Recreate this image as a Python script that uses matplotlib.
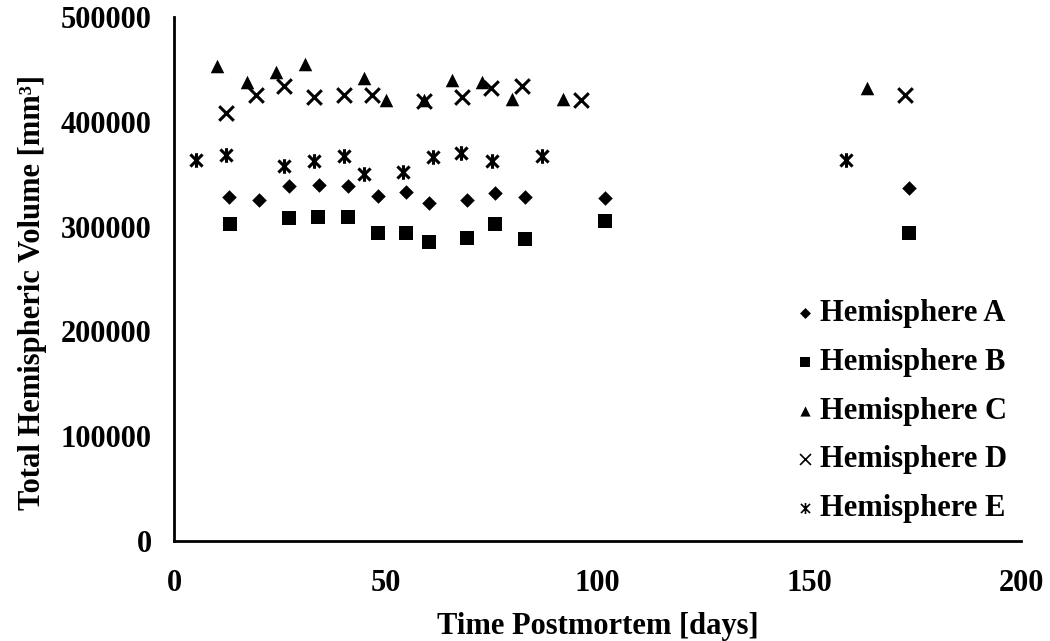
import matplotlib
matplotlib.use("Agg")
import matplotlib.pyplot as plt
from matplotlib.path import Path

plt.rcParams['font.family'] = ['Liberation Serif', 'DejaVu Serif']
plt.rcParams['font.weight'] = 'bold'

# Data (days, mm^3)
a_days = [13.1, 20.1, 27.2, 34.2, 41.2, 48.1, 54.9, 60.1, 69.1, 75.8, 82.9, 101.8, 173.6]
a_vol = [328000, 325400, 338700, 339700, 339000, 329500, 332700, 322800, 325400, 331800, 328000, 327000, 336500]

b_days = [13.2, 27.2, 34.1, 41.2, 48.2, 54.8, 60.1, 69.1, 75.8, 82.9, 101.8, 173.6]
b_vol = [302200, 307900, 309400, 309400, 293600, 293600, 285600, 288800, 302200, 287900, 305300, 294200]

c_days = [10.1, 17.2, 24.0, 31.0, 44.9, 50.1, 59.0, 65.7, 72.7, 79.9, 91.8, 163.6]
c_vol = [453000, 438300, 447800, 455000, 441500, 421000, 421000, 439900, 438300, 421500, 421500, 432000]

d_days = [12.3, 19.4, 26.0, 33.1, 40.1, 46.8, 59.0, 67.9, 74.9, 82.2, 96.0, 172.6]
d_vol = [408100, 425600, 434200, 424000, 425600, 425600, 420000, 424000, 432000, 434200, 420800, 425600]

e_days = [5.2, 12.2, 26.0, 33.1, 40.1, 44.9, 54.0, 61.1, 67.7, 75.0, 86.8, 158.7]
e_vol = [363500, 368300, 357800, 362900, 367000, 350200, 352400, 366000, 370500, 362900, 367400, 363500]

labels = ["Hemisphere A", "Hemisphere B", "Hemisphere C", "Hemisphere D", "Hemisphere E"]
x_ticks = [0, 50, 100, 150, 200]
y_ticks = [0, 100000, 200000, 300000, 400000, 500000]

# Excel-like star marker: X plus vertical bar
star = Path([(-1, -1), (1, 1), (-1, 1), (1, -1), (0, -1.2), (0, 1.2)],
            [Path.MOVETO, Path.LINETO, Path.MOVETO, Path.LINETO, Path.MOVETO, Path.LINETO])

fig = plt.figure(figsize=(10.5, 6.41), dpi=100)
ax = fig.add_axes([0.1657, 0.156, 0.8067, 0.8175])

ax.scatter(a_days, a_vol, marker='D', s=55, color='black', label=labels[0], linewidths=0)
ax.scatter(b_days, b_vol, marker='s', s=110, color='black', label=labels[1], linewidths=0)
ax.scatter(c_days, c_vol, marker='^', s=95, color='black', label=labels[2], linewidths=0)
ax.scatter(d_days, d_vol, marker='x', s=110, color='black', label=labels[3], linewidths=2.2)
ax.scatter(e_days, e_vol, marker=star, s=110, color='black', label=labels[4], linewidths=2.2)

ax.set_xlim(0, 200)
ax.set_ylim(0, 500000)
ax.set_xticks(x_ticks)
ax.set_yticks(y_ticks)
ax.set_xticklabels([str(v) for v in x_ticks])
ax.set_yticklabels([str(v) for v in y_ticks])
ax.tick_params(axis='both', length=0, labelsize=22)
ax.tick_params(axis='x', pad=20)
ax.tick_params(axis='y', pad=16)
for lab in ax.get_xticklabels() + ax.get_yticklabels():
    lab.set_fontweight('bold')

for s in ['top', 'right']:
    ax.spines[s].set_visible(False)
for s in ['left', 'bottom']:
    ax.spines[s].set_linewidth(2)
    ax.spines[s].set_color('black')

ax.set_xlabel("Time Postmortem [days]", fontsize=22, fontweight='bold', labelpad=10)
ax.set_ylabel("Total Hemispheric Volume [mm³]", fontsize=22, fontweight='bold')
ax.yaxis.set_label_coords(-0.150, 0.475)

leg = ax.legend(loc='lower right', bbox_to_anchor=(1.005, 0.0), frameon=False,
                prop={'weight': 'bold', 'size': 22}, markerscale=0.75,
                handletextpad=0.05, labelspacing=0.64, handlelength=0.9, borderaxespad=0.2)
for h in leg.legend_handles[3:]:
    h.set_linewidth(1.2)

fig.savefig("out.png", dpi=100)
